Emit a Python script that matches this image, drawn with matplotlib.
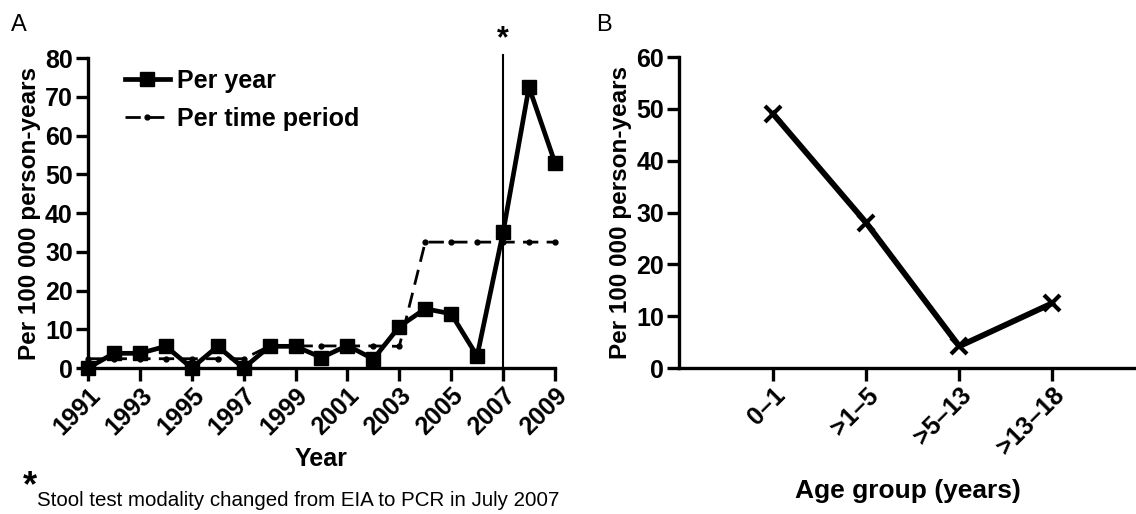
import numpy as np
import matplotlib
matplotlib.use("Agg")
import matplotlib.pyplot as plt

plt.rcParams['font.family'] = ['Liberation Sans', 'DejaVu Sans']

# panel A data
years = [1991, 1992, 1993, 1994, 1995, 1996, 1997, 1998, 1999, 2000,
         2001, 2002, 2003, 2004, 2005, 2006, 2007, 2008, 2009]
per_year = [0, 3.8, 3.8, 5.6, 0, 5.6, 0, 5.6, 5.6, 2.7,
            5.8, 2.3, 10.7, 15.3, 14.0, 3.1, 35.0, 72.5, 53.0]
per_period = [2.4, 2.4, 2.4, 2.4, 2.4, 2.4, 2.4, 5.7, 5.7, 5.7,
              5.7, 5.7, 5.6, 32.5, 32.5, 32.5, 32.5, 32.5, 32.5]
year_ticks = [1991, 1993, 1995, 1997, 1999, 2001, 2003, 2005, 2007, 2009]

# panel B data
age_groups = ['0\u20131', '>1\u20135', '>5\u201313', '>13\u201318']
age_rates = [49.0, 28.0, 4.2, 12.5]

fig = plt.figure(figsize=(11.36, 5.14), dpi=100)

def style_axes(ax):
    for s in ['top', 'right']:
        ax.spines[s].set_visible(False)
    for s in ['left', 'bottom']:
        ax.spines[s].set_linewidth(2.4)
    ax.tick_params(direction='out', length=9, width=2.4, labelsize=18, pad=2)
    for lab in ax.get_yticklabels() + ax.get_xticklabels():
        lab.set_fontweight('bold')

# ---- A ----
axA = fig.add_axes([0.0775, 0.284, 0.411, 0.603])
axA.plot(years, per_year, '-s', color='black', lw=3.4, ms=9.5, label='Per year',
         zorder=3, clip_on=False)
axA.plot(years, per_period, '--o', color='black', lw=2.0, ms=3.5, dashes=(5.5, 3),
         label='Per time period', zorder=2, clip_on=False)
axA.plot([2007, 2007], [0, 80.7], color='black', lw=1.5, clip_on=False, zorder=1)
axA.text(2007, 81.0, '*', ha='center', va='bottom', fontsize=22, fontweight='bold')
axA.set_xlim(1991, 2009)
axA.set_ylim(0, 80)
axA.set_yticks(np.arange(0, 81, 10))
axA.set_xticks(year_ticks)
axA.set_xticklabels([str(y) for y in year_ticks], rotation=45, ha='right',
                    rotation_mode='anchor')
axA.set_xlabel('Year', fontsize=18, fontweight='bold', labelpad=5)
axA.set_ylabel('Per 100 000 person-years', fontsize=17.5, fontweight='bold', labelpad=3)
style_axes(axA)
axA.legend(loc='upper left', bbox_to_anchor=(0.079, 0.965), frameon=False,
           borderpad=0, borderaxespad=0,
           prop={'size': 18, 'weight': 'bold'}, handlelength=1.8,
           handletextpad=0.3, labelspacing=0.55)

# ---- B ----
axB = fig.add_axes([0.598, 0.284, 0.402, 0.605])
xpos = np.arange(len(age_groups))
axB.plot(xpos, age_rates, '-x', color='black', lw=4.2, ms=12, mew=3)
axB.set_xlim(-1.01, 3.9)
axB.set_ylim(0, 60)
axB.set_yticks(np.arange(0, 61, 10))
axB.set_xticks(xpos)
axB.set_xticklabels(age_groups, rotation=45, ha='right', rotation_mode='anchor')
axB.set_xlabel('Age group (years)', fontsize=19, fontweight='bold', labelpad=14)
axB.set_ylabel('Per 100 000 person-years', fontsize=17.5, fontweight='bold', labelpad=3)
style_axes(axB)

fig.text(0.010, 0.94, 'A', fontsize=17)
fig.text(0.525, 0.94, 'B', fontsize=17)
fig.text(0.020, 0.035, '*', fontsize=26, fontweight='bold')
fig.text(0.033, 0.016, 'Stool test modality changed from EIA to PCR in July 2007', fontsize=14.8)

fig.savefig('out.png', dpi=100)
